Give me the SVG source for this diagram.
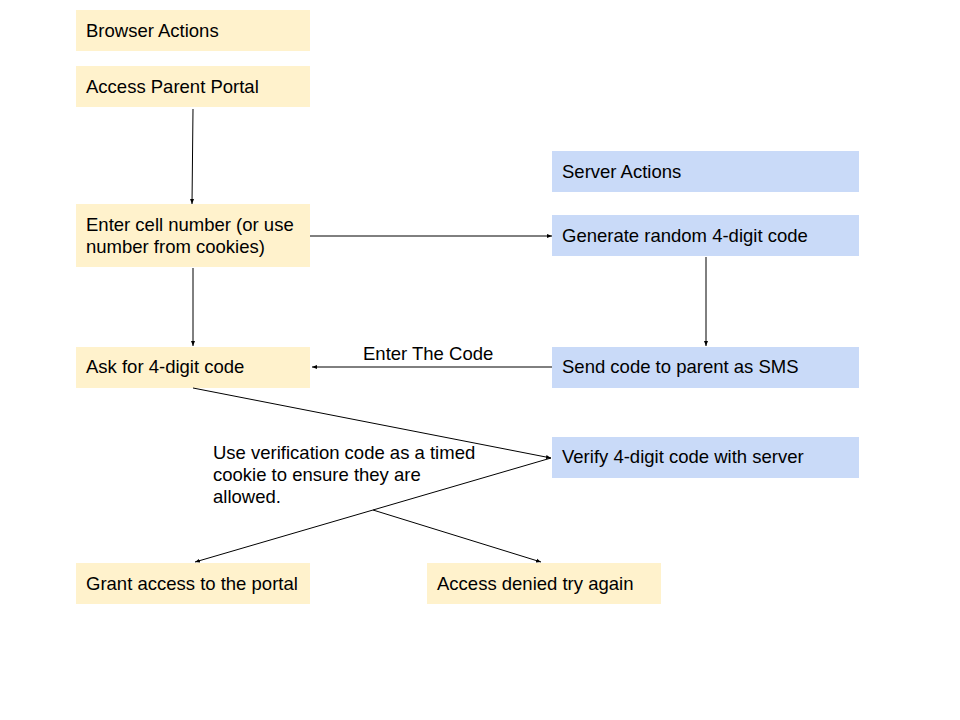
<svg xmlns="http://www.w3.org/2000/svg" width="960" height="720" viewBox="0 0 960 720">
<defs>
<style>
.y{fill:#fff2cc}
.b{fill:#c9daf8}
text{font-family:"Liberation Sans",Arial,sans-serif;font-size:18.5px;fill:#000}
.c line{stroke:#000;stroke-width:1;marker-end:url(#ah)}
</style>
<marker id="ah" viewBox="0 0 10 10" refX="10" refY="5" markerWidth="5" markerHeight="5" orient="auto" markerUnits="strokeWidth">
<path d="M0,1 L10,5 L0,9 z" fill="#000"/>
</marker>
</defs>
<rect width="960" height="720" fill="#fff"/>
<g id="browser-actions"><rect class="y" x="76" y="10" width="234" height="41"/><text x="86" y="37">Browser Actions</text></g>
<g id="access-parent-portal"><rect class="y" x="76" y="66" width="234" height="41"/><text x="86" y="93">Access Parent Portal</text></g>
<g id="enter-cell"><rect class="y" x="76" y="204" width="234" height="63"/><text x="86" y="231">Enter cell number (or use</text><text x="86" y="253">number from cookies)</text></g>
<g id="ask-code"><rect class="y" x="76" y="347" width="234" height="41"/><text x="86" y="373">Ask for 4-digit code</text></g>
<g id="grant"><rect class="y" x="76" y="563" width="234" height="41"/><text x="86" y="590">Grant access to the portal</text></g>
<g id="denied"><rect class="y" x="427" y="563" width="234" height="41"/><text x="437" y="590">Access denied try again</text></g>
<g id="server-actions"><rect class="b" x="552" y="151" width="307" height="41"/><text x="562" y="178">Server Actions</text></g>
<g id="generate"><rect class="b" x="552" y="215" width="307" height="41"/><text x="562" y="242">Generate random 4-digit code</text></g>
<g id="send"><rect class="b" x="552" y="347" width="307" height="41"/><text x="562" y="373">Send code to parent as SMS</text></g>
<g id="verify"><rect class="b" x="552" y="437" width="307" height="41"/><text x="562" y="463">Verify 4-digit code with server</text></g>
<g id="connectors" class="c">
<line x1="193" y1="109" x2="192" y2="204"/>
<line x1="193" y1="268" x2="193" y2="346"/>
<line x1="310" y1="236" x2="552" y2="236"/>
<line x1="706" y1="257" x2="706" y2="346"/>
<line x1="552" y1="367" x2="312" y2="367"/>
<line x1="193" y1="388" x2="551" y2="458"/>
<line x1="551" y1="458" x2="195" y2="562"/>
<line x1="373" y1="510" x2="541" y2="562"/>
</g>
<g id="labels">
<text x="363" y="360">Enter The Code</text>
<text x="213" y="459">Use verification code as a timed</text>
<text x="213" y="481">cookie to ensure they are</text>
<text x="213" y="503">allowed.</text>
</g>
</svg>
